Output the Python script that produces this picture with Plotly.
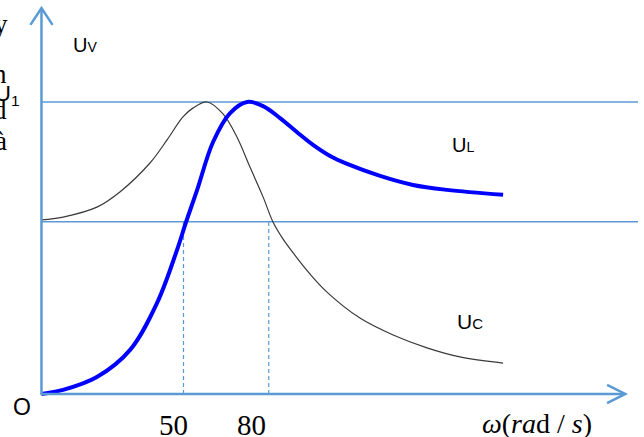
import plotly.graph_objects as go

# ---- data ----
omega_L = [0, 7.6, 19.5, 31.2, 40.7, 47.7, 50.9, 54.8, 60.4, 66.4, 72.4, 78.0, 84.0, 89.9, 95.6, 101.6, 107.6, 119.2, 130.8, 142.8, 162.5]
U_L = [0, 1.4, 5.8, 15.1, 31.2, 49.3, 58.9, 69.9, 86.3, 96.2, 100, 98.6, 94.5, 89.7, 85.3, 81.5, 78.8, 74.7, 71.6, 69.9, 68.2]

omega_C = [0, 7.6, 19.5, 27.6, 38.2, 44.2, 49.8, 53.3, 58.3, 63.9, 68.8, 73.4, 78.0, 81.5, 85.0, 88.6, 94.5, 100.5, 112.1, 123.8, 135.7, 147.3, 162.5]
U_C = [59.6, 60.6, 64.0, 69.2, 79.1, 87.0, 94.9, 97.9, 100, 95.9, 88.0, 77.7, 67.5, 58.9, 53.1, 48.3, 41.1, 34.9, 26.0, 20.2, 15.8, 12.7, 10.6]

U1 = 100
U_base = 59
omega_marks = [50, 80]
mark_labels = ["50", "80"]

AX = "#5B9BD5"

fig = go.Figure()

fig.add_trace(go.Scatter(x=omega_C, y=U_C, mode="lines",
                         line=dict(color="#3a3a3a", width=1.2, shape="spline", smoothing=1.0),
                         hoverinfo="skip"))
fig.add_trace(go.Scatter(x=omega_L, y=U_L, mode="lines",
                         line=dict(color="#0000FF", width=4, shape="spline", smoothing=1.0),
                         hoverinfo="skip"))

shapes = []
# horizontal reference lines
for u in (U1, U_base):
    shapes.append(dict(type="line", x0=0, x1=210, y0=u, y1=u, xref="x", yref="y",
                       line=dict(color=AX, width=1.5), layer="below"))
# dashed verticals
for w in omega_marks:
    shapes.append(dict(type="line", x0=w, x1=w, y0=0, y1=U_base, xref="x", yref="y",
                       line=dict(color=AX, width=1.2, dash="4px,3px"), layer="below"))
# axes
shapes.append(dict(type="line", x0=0, x1=0, y0=-0.3, y1=132.2, line=dict(color=AX, width=2.5)))
shapes.append(dict(type="line", x0=-0.3, x1=205.5, y0=0, y1=0, line=dict(color=AX, width=2.5)))
# arrow heads
shapes.append(dict(type="path", path="M -3.9,126.4 L 0,132.2 L 3.9,126.4", line=dict(color=AX, width=2.5)))
shapes.append(dict(type="path", path="M 199.1,3.1 L 205.5,0 L 199.1,-3.1", line=dict(color=AX, width=2.5)))

ann = []
serif = "Liberation Serif"
sans = "Liberation Sans"
for w, lab, xx in zip(omega_marks, mark_labels, [46.3, 74.1]):
    ann.append(dict(x=xx, y=-10.6, text=lab, showarrow=False, xref="x", yref="y",
                    font=dict(family=serif, size=29, color="black")))
ann.append(dict(x=174.3, y=-10.2, text="<i>ω</i>(<i>ra</i>d / <i>s</i>)", showarrow=False,
                font=dict(family=serif, size=28, color="black")))
ann.append(dict(x=-7.0, y=-4.6, text="O", showarrow=False, font=dict(family=sans, size=23, color="black")))
ann.append(dict(x=15.3, y=119.5, text="U<span style='font-size:14px'>V</span>", showarrow=False,
                font=dict(family=sans, size=20, color="black")))
ann.append(dict(x=148.5, y=85.3, text="U<span style='font-size:14px'>L</span>", showarrow=False,
                font=dict(family=sans, size=20, color="black")))
ann.append(dict(x=151.0, y=24.7, text="U<span style='font-size:15px'>C</span>", showarrow=False,
                font=dict(family=sans, size=21, color="black")))

# clipped text fragments at the left edge
def px(xp, yp):
    return xp / 644, 1 - yp / 437

for t, xp, yp, fam, sz in [("y", 10, 24, serif, 27), ("n", 9, 74, serif, 27),
                           ("d", 9, 110, serif, 27), ("à", 9, 141, serif, 27)]:
    x, y = px(xp, yp)
    ann.append(dict(x=x, y=y, xref="paper", yref="paper", text=t, showarrow=False,
                    xanchor="right", yanchor="middle", font=dict(family=fam, size=sz, color="black")))
x, y = px(21, 95)
ann.append(dict(x=x, y=y, xref="paper", yref="paper", text="U<sub>1</sub>", showarrow=False,
                xanchor="right", yanchor="middle", font=dict(family=sans, size=22, color="black")))

fig.update_layout(
    width=644, height=437, margin=dict(l=0, r=0, t=0, b=0),
    paper_bgcolor="white", plot_bgcolor="white", showlegend=False,
    xaxis=dict(range=[-14.6, 212.1], visible=False, fixedrange=True),
    yaxis=dict(range=[-14.73, 134.93], visible=False, fixedrange=True),
    shapes=shapes, annotations=ann,
)

fig.write_html("out.html", config={"displayModeBar": False},
               post_script="document.body.style.margin='0';document.body.style.overflow='hidden';")
